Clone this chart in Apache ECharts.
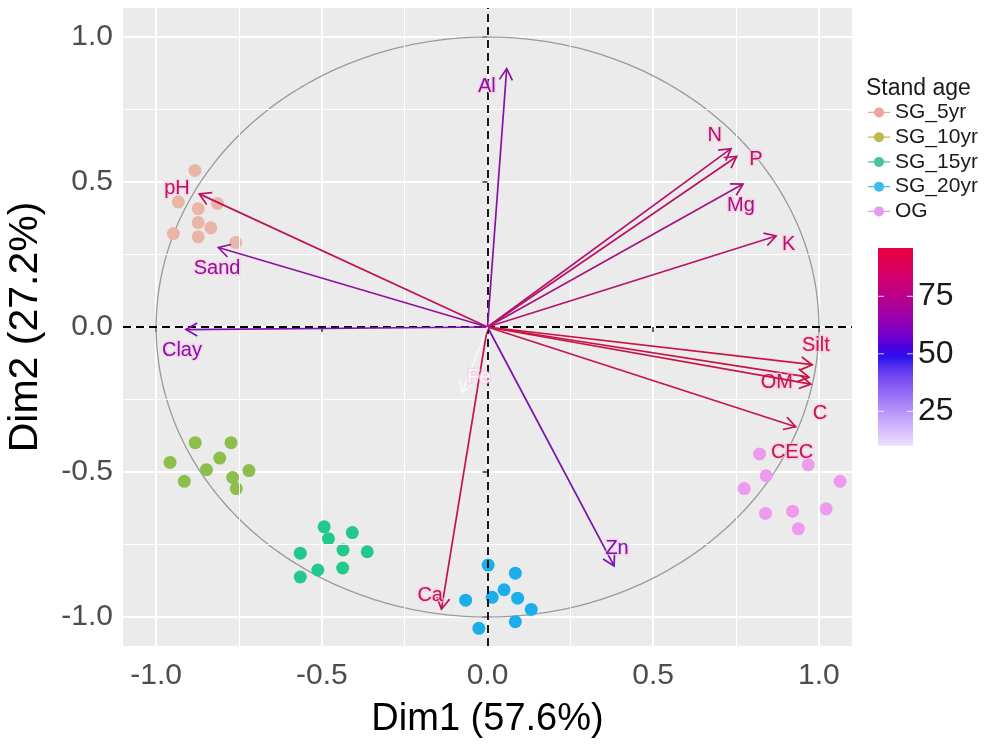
<!DOCTYPE html>
<html><head><meta charset="utf-8">
<script src="https://cdn.jsdelivr.net/npm/echarts@6/dist/echarts.min.js"></script>
<style>html,body{margin:0;padding:0;background:#fff}#c{width:985px;height:751px}</style>
</head><body><div id="c"></div>
<script>
// ---------------- DATA ----------------
const groups = ['SG_5yr', 'SG_10yr', 'SG_15yr', 'SG_20yr', 'OG'];
const sg5X  = [-0.883, -0.933, -0.873, -0.815, -0.873, -0.835, -0.948, -0.873, -0.760];
const sg5Y  = [ 0.540,  0.431,  0.408,  0.426,  0.360,  0.342,  0.322,  0.311,  0.291];
const sg10X = [-0.882, -0.774, -0.808, -0.958, -0.848, -0.720, -0.769, -0.915, -0.758];
const sg10Y = [-0.399, -0.399, -0.452, -0.467, -0.492, -0.495, -0.519, -0.532, -0.557];
const sg15X = [-0.493, -0.480, -0.408, -0.565, -0.436, -0.363, -0.512, -0.437, -0.565];
const sg15Y = [-0.689, -0.730, -0.709, -0.780, -0.769, -0.775, -0.838, -0.831, -0.862];
const sg20X = [ 0.002,  0.084,  0.050, -0.066,  0.014,  0.091,  0.132,  0.084, -0.026];
const sg20Y = [-0.821, -0.849, -0.906, -0.942, -0.932, -0.935, -0.974, -1.016, -1.039];
const ogX   = [ 0.821,  0.968,  0.841,  0.775,  1.064,  0.839,  0.921,  1.022,  0.938];
const ogY   = [-0.438, -0.475, -0.513, -0.557, -0.532, -0.643, -0.635, -0.627, -0.696];

const varNames   = ['Al', 'pH', 'Sand', 'Clay', 'N', 'P', 'Mg', 'K', 'Silt', 'OM', 'C', 'CEC', 'Zn', 'Ca', 'Fe'];
const varX       = [0.058, -0.870, -0.812, -0.910, 0.735, 0.752, 0.771, 0.871, 0.980, 0.970, 0.976, 0.930, 0.382, -0.139, -0.077];
const varY       = [0.891,  0.459,  0.274, -0.009, 0.615, 0.588, 0.493, 0.314, -0.130, -0.173, -0.197, -0.344, -0.824, -0.973, -0.226];
const varContrib = [66, 88, 68, 64, 82, 85, 77, 83, 95, 94, 95, 92, 62, 90, 10];
const labelX     = [-0.002, -0.937, -0.816, -0.922, 0.686, 0.810, 0.765, 0.909, 0.991, 0.873, 1.003, 0.919, 0.391, -0.173, -0.026];
const labelY     = [ 0.828,  0.478,  0.201, -0.081, 0.660, 0.578, 0.420, 0.283, -0.063, -0.190, -0.297, -0.431, -0.763, -0.925, -0.173];

const circleRadius = [1];
const xTicks = [-1.0, -0.5, 0.0, 0.5, 1.0];
const yTicks = [-1.0, -0.5, 0.0, 0.5, 1.0];
const minorGrid = [-0.75, -0.25, 0.25, 0.75];
const cbTicks = [25, 50, 75];
const cbRange = [10, 96];
const cbMid = 50;

// ---------------- STYLE ----------------
const FONT = '"Liberation Sans", Arial, sans-serif';
const pointColors  = ['#E9B5A7', '#8DBE4B', '#22C98D', '#1BAEEA', '#EE9AEE'];
const legendColors = ['#F2A29C', '#BDB94C', '#48C596', '#40B9EC', '#E49CF0'];

// gradient2 (white - blue - red) in Lab space, like ggplot
function s2l(c){ c/=255; return c<=0.04045 ? c/12.92 : Math.pow((c+0.055)/1.055, 2.4); }
function l2s(c){ c = c<=0.0031308 ? 12.92*c : 1.055*Math.pow(c,1/2.4)-0.055; return Math.round(Math.max(0,Math.min(1,c))*255); }
function rgb2lab(rgb){
  const r=s2l(rgb[0]), g=s2l(rgb[1]), b=s2l(rgb[2]);
  const X=(0.4124*r+0.3576*g+0.1805*b)/0.95047, Y=(0.2126*r+0.7152*g+0.0722*b), Z=(0.0193*r+0.1192*g+0.9505*b)/1.08883;
  const f=t=> t>0.008856 ? Math.cbrt(t) : 7.787*t+16/116;
  return [116*f(Y)-16, 500*(f(X)-f(Y)), 200*(f(Y)-f(Z))];
}
function lab2rgb(lab){
  const fy=(lab[0]+16)/116, fx=fy+lab[1]/500, fz=fy-lab[2]/200;
  const fi=t=> t*t*t>0.008856 ? t*t*t : (t-16/116)/7.787;
  const X=fi(fx)*0.95047, Y=fi(fy), Z=fi(fz)*1.08883;
  return [l2s(3.2406*X-1.5372*Y-0.4986*Z), l2s(-0.9689*X+1.8758*Y+0.0415*Z), l2s(0.0557*X-0.2040*Y+1.0570*Z)];
}
const LOW=rgb2lab([255,255,255]), MID=rgb2lab([10,0,235]), HIGH=rgb2lab([235,0,60]);
function colorRGB(v){
  const span = Math.max(Math.abs(cbRange[0]-cbMid), Math.abs(cbRange[1]-cbMid));
  const t = (v-cbMid)/span/2 + 0.5;
  let a, b, s;
  if (t < 0.5){ a=LOW; b=MID; s=t/0.5; } else { a=MID; b=HIGH; s=(t-0.5)/0.5; }
  s=Math.max(0,Math.min(1,s));
  return lab2rgb([a[0]+(b[0]-a[0])*s, a[1]+(b[1]-a[1])*s, a[2]+(b[2]-a[2])*s]);
}
function colorFor(v){ const c = colorRGB(v); return 'rgb('+c[0]+','+c[1]+','+c[2]+')'; }
function darkColorFor(v){
  const c = colorRGB(v);
  if (v < 30) return 'rgb(250,248,252)';
  const k = 0.85;
  return 'rgb('+Math.round(c[0]*k+5)+','+Math.round(c[1]*k+18)+','+Math.round(c[2]*k+15)+')';
}

const groupX = [sg5X, sg10X, sg15X, sg20X, ogX];
const groupY = [sg5Y, sg10Y, sg15Y, sg20Y, ogY];

const chart = echarts.init(document.getElementById('c'));

const scatterSeries = groups.map((g, gi) => ({
  name: g, type: 'scatter', z: 4,
  symbol: 'circle', symbolSize: 13,
  itemStyle: { color: pointColors[gi], opacity: 1 },
  data: groupX[gi].map((x, i) => [x, groupY[gi][i]]),
  silent: true
}));

const arrowData = varNames.map((n, i) => [varX[i], varY[i], varContrib[i], labelX[i], labelY[i]]);

// colorbar geometry (layout)
const cbX = 878, cbTop = 248, cbW = 35, cbPx = 2.3;
const cbH = (cbRange[1]-cbRange[0])*cbPx;
const cbStops = [];
for (let k=0;k<=20;k++){ const v = cbRange[1] - (cbRange[1]-cbRange[0])*k/20; cbStops.push({offset:k/20, color:colorFor(v)}); }
const cbGraphic = [{
  type:'rect', left:cbX, top:cbTop, shape:{width:cbW, height:cbH},
  style:{fill: new echarts.graphic.LinearGradient(0,0,0,1,cbStops)}
}];
cbTicks.forEach(v => {
  const y = cbTop + (cbRange[1]-v)*cbPx;
  cbGraphic.push({type:'line', shape:{x1:cbX, y1:y, x2:cbX+6, y2:y}, style:{stroke:'rgba(255,255,255,0.8)', lineWidth:1}});
  cbGraphic.push({type:'line', shape:{x1:cbX+cbW-6, y1:y, x2:cbX+cbW, y2:y}, style:{stroke:'rgba(255,255,255,0.8)', lineWidth:1}});
  cbGraphic.push({type:'text', x:cbX+cbW+5, y:y, style:{text:String(v), font:'32px '+FONT, fill:'#1a1a1a', textAlign:'left', textVerticalAlign:'middle'}});
});

const option = {
  animation: false,
  backgroundColor: '#ffffff',
  title: { text: 'Stand age', left: 866, top: 77, padding: 0,
    textStyle: { fontSize: 23, fontWeight: 'normal', fontFamily: FONT, color: '#1a1a1a' } },
  legend: {
    orient: 'vertical', left: 868, top: 100, padding: 0, itemGap: 0,
    itemWidth: 22, itemHeight: 10,
    icon: 'path://M0,4.3L22,4.3L22,5.7L0,5.7Z M6,5A5,5,0,1,1,16,5A5,5,0,1,1,6,5Z',
    textStyle: { fontSize: 21, fontFamily: FONT, color: '#1a1a1a', lineHeight: 24.75 },
    itemStyle: { borderWidth: 0 },
    selectedMode: false,
    data: groups.map((g, i) => ({ name: g, itemStyle: { color: legendColors[i], borderWidth: 0 } }))
  },
  graphic: cbGraphic,
  grid: { left: 123, right: 133, top: 8, bottom: 105, show: true, backgroundColor: '#EBEBEB', borderWidth: 0, containLabel: false, outerBoundsMode: 'none' },
  xAxis: {
    type: 'value', min: -1.1, max: 1.1,
    axisLine: { show: false },
    axisTick: { show: true, length: 5, lineStyle: { color: '#333', width: 1.5 }, customValues: xTicks },
    axisLabel: { customValues: xTicks, fontSize: 30, fontFamily: FONT, color: '#4d4d4d', margin: 15, formatter: v => v.toFixed(1) },
    splitLine: { show: true, lineStyle: { color: '#ffffff', width: 2 } },
    name: 'Dim1 (57.6%)', nameLocation: 'middle', nameGap: 55,
    nameTextStyle: { fontSize: 38, fontFamily: FONT, color: '#000' }
  },
  yAxis: {
    type: 'value', min: -1.1, max: 1.1,
    axisLine: { show: false },
    axisTick: { show: true, length: 5, lineStyle: { color: '#333', width: 1.5 }, customValues: yTicks },
    axisLabel: { customValues: yTicks, fontSize: 30, fontFamily: FONT, color: '#4d4d4d', margin: 10, formatter: v => v.toFixed(1) },
    splitLine: { show: true, lineStyle: { color: '#ffffff', width: 2 } },
    name: 'Dim2 (27.2%)', nameLocation: 'middle', nameGap: 77, nameRotate: 90,
    nameTextStyle: { fontSize: 41, fontFamily: FONT, color: '#000' }
  },
  series: [
    { // minor grid lines
      type: 'line', data: [], z: 1, silent: true,
      markLine: { silent: true, symbol: ['none','none'], label: { show: false }, animation: false,
        lineStyle: { color: '#ffffff', width: 1, type: 'solid' },
        data: minorGrid.map(v => ({ xAxis: v })).concat(minorGrid.map(v => ({ yAxis: v }))) }
    },
    { // correlation circle
      type: 'custom', z: 2, silent: true, clip: false,
      data: circleRadius.map(r => [0, 0, r]),
      encode: { x: 0, y: 1 },
      renderItem: function (params, api) {
        const r = api.value(2), cx = api.value(0), cy = api.value(1);
        const pts = [];
        for (let k = 0; k <= 360; k++) { const a = k * Math.PI / 180; pts.push(api.coord([cx + r*Math.cos(a), cy + r*Math.sin(a)])); }
        return { type: 'polyline', shape: { points: pts }, style: { stroke: '#9a9a9a', lineWidth: 1.3, fill: null } };
      }
    },
    ...scatterSeries,
    { // zero lines
      type: 'line', data: [], z: 5, silent: true,
      markLine: { silent: true, symbol: ['none','none'], label: { show: false }, animation: false,
        lineStyle: { color: '#000000', width: 1.8, type: [8, 5] },
        data: [{ xAxis: 0 }, { yAxis: 0 }] }
    },
    { // variable arrows
      type: 'custom', z: 6, silent: true, clip: false,
      data: arrowData,
      encode: { x: 0, y: 1 },
      renderItem: function (params, api) {
        const i = params.dataIndex;
        const o = api.coord([0, 0]);
        const t = api.coord([api.value(0), api.value(1)]);
        const col = darkColorFor(api.value(2));
        const ang = Math.atan2(t[1]-o[1], t[0]-o[0]);
        const L = 13, a = Math.PI / 6;
        const p1 = [t[0] - L*Math.cos(ang - a), t[1] - L*Math.sin(ang - a)];
        const p2 = [t[0] - L*Math.cos(ang + a), t[1] - L*Math.sin(ang + a)];
        const lp = api.coord([api.value(3), api.value(4)]);
        return { type: 'group', children: [
          { type: 'line', shape: { x1: o[0], y1: o[1], x2: t[0], y2: t[1] }, style: { stroke: col, lineWidth: 1.7 } },
          { type: 'polyline', shape: { points: [p1, t, p2] }, style: { stroke: col, lineWidth: 1.7, fill: null } },
          { type: 'text', x: lp[0], y: lp[1], style: { text: varNames[i], fill: col, font: '20px ' + FONT,
              align: 'center', verticalAlign: 'middle', stroke: 'rgba(250,195,225,0.6)', lineWidth: 3 } }
        ] };
      }
    }
  ]
};
chart.setOption(option);
</script></body></html>
